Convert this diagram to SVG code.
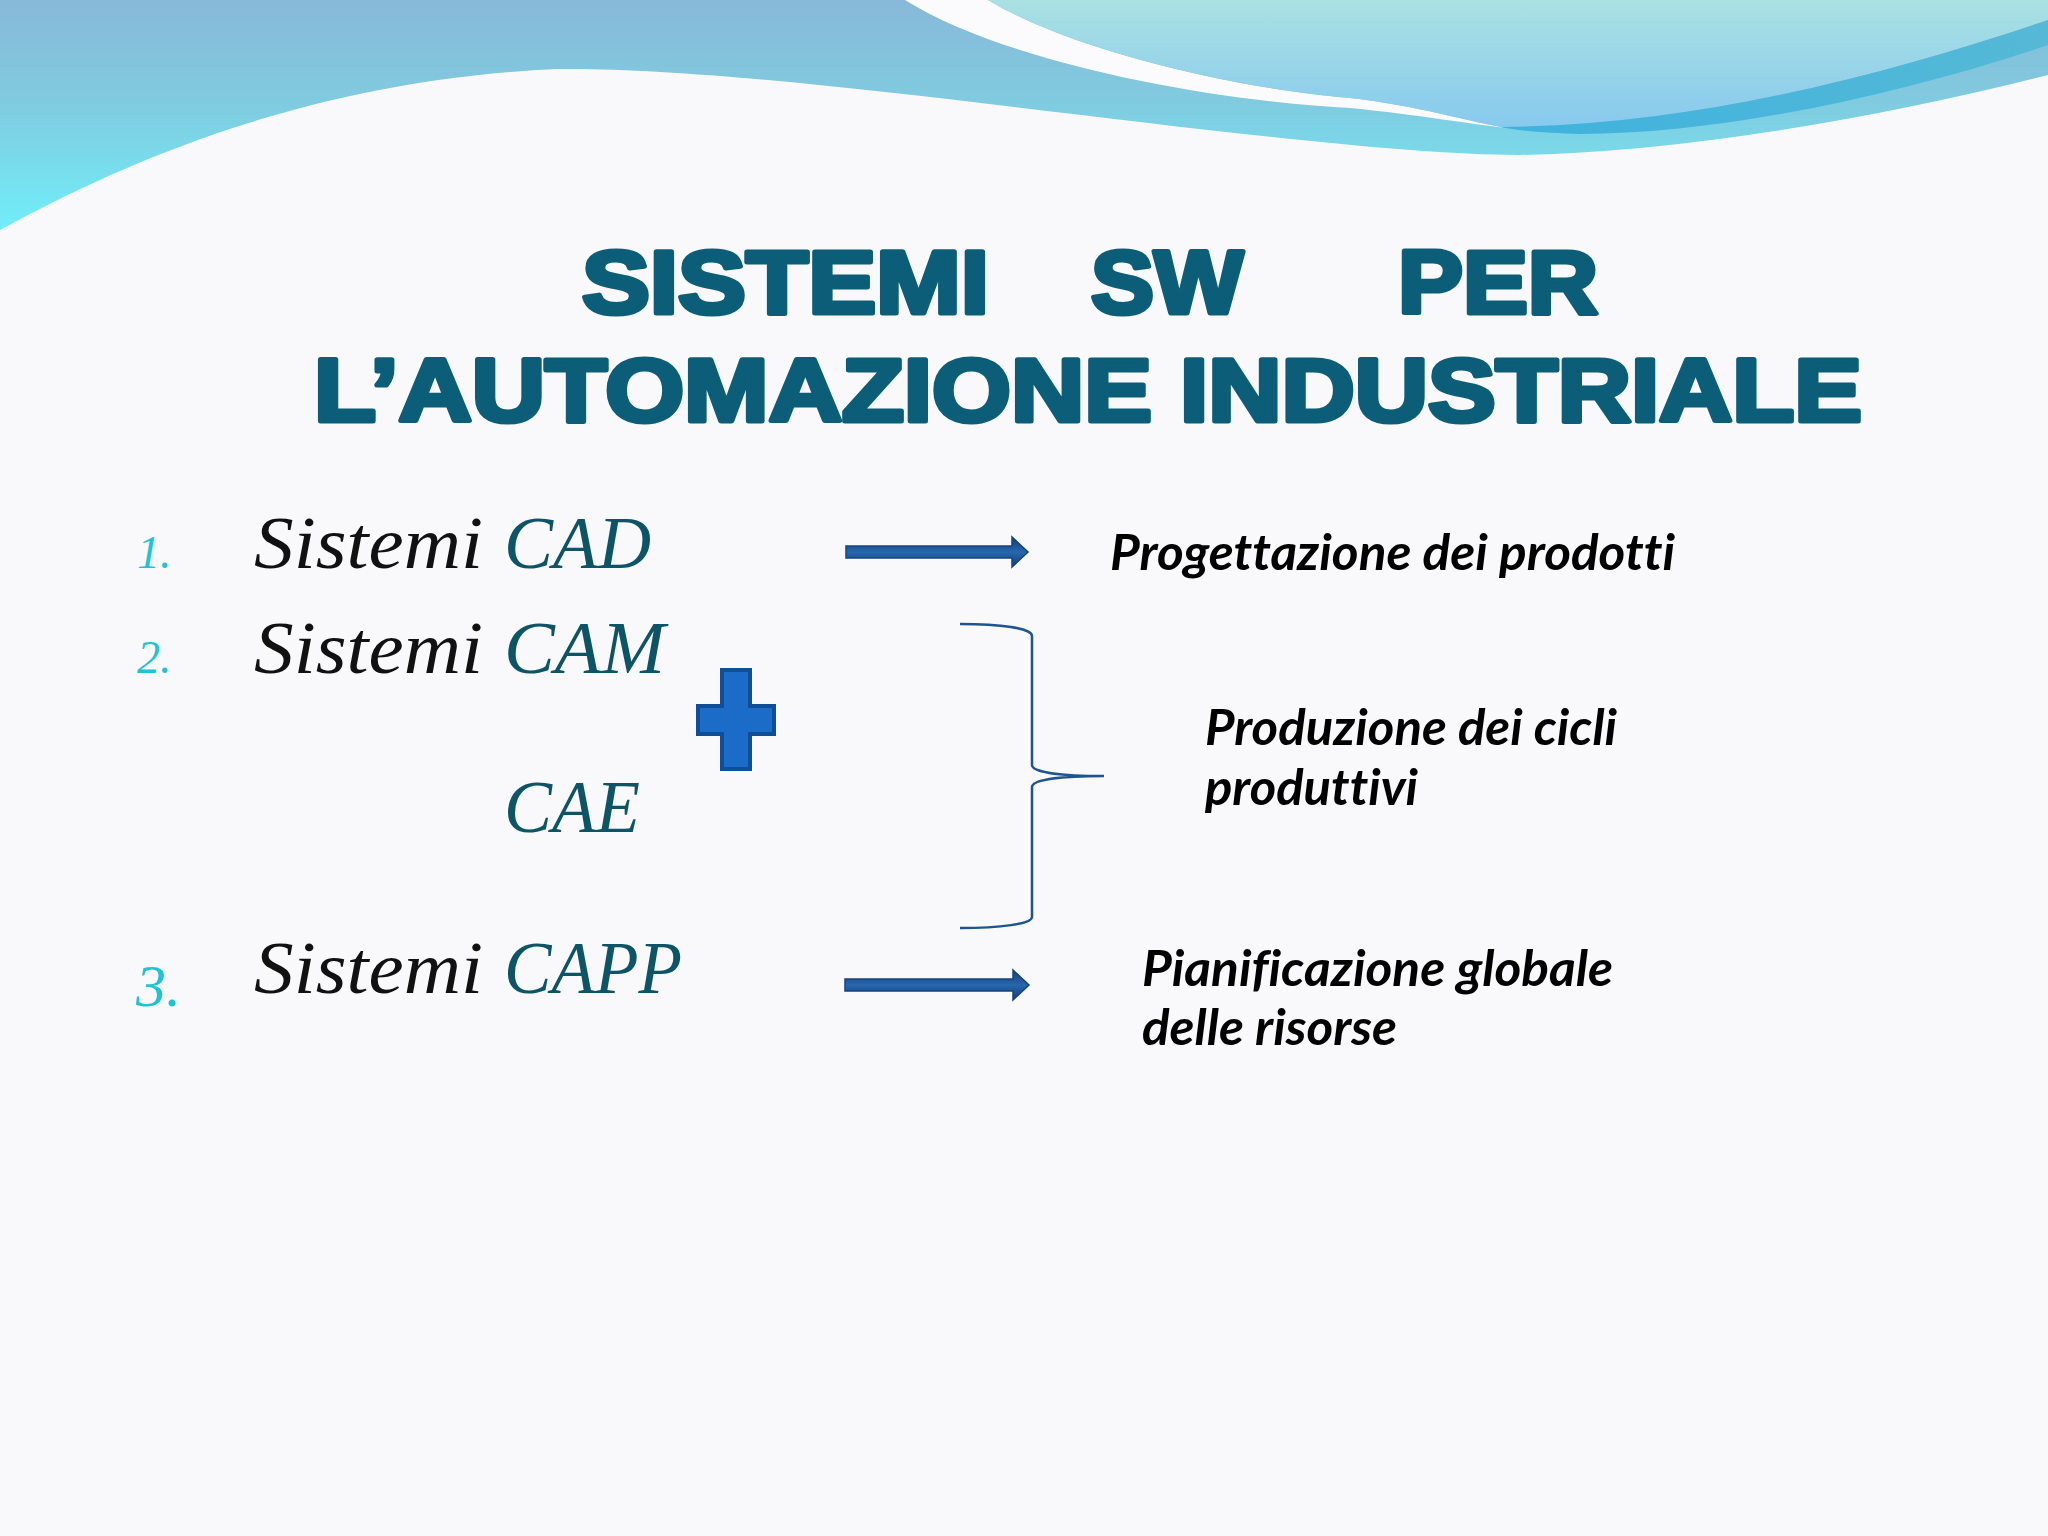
<svg xmlns="http://www.w3.org/2000/svg" width="2048" height="1536" viewBox="0 0 2048 1536">
  <defs>
    <linearGradient id="bandGrad" x1="0" y1="0" x2="0" y2="230" gradientUnits="userSpaceOnUse">
      <stop offset="0" stop-color="#87b9d8"/>
      <stop offset="0.45" stop-color="#80cbe0"/>
      <stop offset="1" stop-color="#70eef8"/>
    </linearGradient>
    <linearGradient id="lightGrad" x1="0" y1="0" x2="0" y2="130" gradientUnits="userSpaceOnUse">
      <stop offset="0" stop-color="#a9e1e3"/>
      <stop offset="1" stop-color="#87c9ee"/>
    </linearGradient>
    <linearGradient id="stripeGrad" x1="1500" y1="0" x2="2048" y2="0" gradientUnits="userSpaceOnUse">
      <stop offset="0" stop-color="#3fb2de"/>
      <stop offset="1" stop-color="#55b9d6"/>
    </linearGradient>
    <linearGradient id="arrowGrad" x1="0" y1="0" x2="0" y2="1">
      <stop offset="0" stop-color="#153f78"/>
      <stop offset="0.5" stop-color="#2766ad"/>
      <stop offset="1" stop-color="#153f78"/>
    </linearGradient>
    <style>
      .title { font-family: "Liberation Sans", Arial, sans-serif; font-weight: bold; font-size: 89px; fill: #0b5d78; stroke: #0b5d78; stroke-width: 5px; stroke-linejoin: round; }
      .item { font-family: "Liberation Serif", "Times New Roman", serif; font-style: italic; font-size: 75px; fill: #111111; }
      .num { font-family: "Liberation Serif", "Times New Roman", serif; font-style: italic; font-size: 46px; fill: #1fc4d4; }
      .acr { fill: #0d5466; }
      .desc { font-family: Lato, "Liberation Sans", sans-serif; font-style: italic; font-weight: bold; font-size: 50px; fill: #000000; font-variant-ligatures: none; }
      .arrow { fill: url(#arrowGrad); stroke: #15437e; stroke-width: 1.5; }
      .brace { fill: none; stroke: #1d5491; stroke-width: 2.5; }
    </style>
  </defs>

  <!-- background -->
  <rect x="0" y="0" width="2048" height="1536" fill="#f9f9fb"/>

  <!-- header waves -->
  <g id="header">
    <path d="M0,0 H2048 V75 C1880,118 1680,152 1520,155 C1300,155 800,66 558,69 C300,80 110,170 0,230 Z" fill="url(#bandGrad)"/>
    <path d="M905,0 L988,0 C1080,55 1250,90 1350,98 C1420,106 1470,122 1507,128 C1470,124 1420,115 1350,108 C1200,100 1000,60 905,0 Z" fill="#fbfbfd"/>
    <path d="M988,0 H2048 V20 C1900,70 1700,126 1507,128 C1470,122 1420,106 1350,98 C1250,90 1080,55 988,0 Z" fill="url(#lightGrad)"/>
    <path d="M1500,127 C1700,126 1900,70 2048,20 V45 C1900,95 1720,134 1580,134 C1550,133 1520,131 1500,127 Z" fill="url(#stripeGrad)"/>
  </g>

  <!-- title -->
  <g id="title">
    <text class="title" x="582" y="313" textLength="407" lengthAdjust="spacingAndGlyphs">SISTEMI</text>
    <text class="title" x="1091" y="313" textLength="152" lengthAdjust="spacingAndGlyphs">SW</text>
    <text class="title" x="1398" y="313" textLength="200" lengthAdjust="spacingAndGlyphs">PER</text>
    <text class="title" x="314" y="421" textLength="1548" lengthAdjust="spacingAndGlyphs">L’AUTOMAZIONE INDUSTRIALE</text>
  </g>

  <!-- list items -->
  <g id="item-cad">
    <text class="num" x="137" y="568">1.</text>
    <text class="item" x="254" y="568" textLength="229" lengthAdjust="spacingAndGlyphs">Sistemi</text>
    <text class="item acr" x="504" y="568" textLength="147" lengthAdjust="spacingAndGlyphs">CAD</text>
  </g>
  <g id="item-cam">
    <text class="num" x="137" y="673">2.</text>
    <text class="item" x="254" y="673" textLength="229" lengthAdjust="spacingAndGlyphs">Sistemi</text>
    <text class="item acr" x="504" y="673" textLength="161" lengthAdjust="spacingAndGlyphs">CAM</text>
  </g>
  <g id="item-cae">
    <text class="item acr" x="504" y="832" textLength="136" lengthAdjust="spacingAndGlyphs">CAE</text>
  </g>
  <g id="plus">
    <path d="M722,670 H750 V706 H774 V734 H750 V769 H722 V734 H698 V706 H722 Z" fill="#1a6cc8" stroke="#104e96" stroke-width="4"/>
  </g>
  <g id="item-capp">
    <text class="num" x="136" y="1006" style="font-size:60px">3.</text>
    <text class="item" x="254" y="993" textLength="229" lengthAdjust="spacingAndGlyphs">Sistemi</text>
    <text class="item acr" x="504" y="993" textLength="178" lengthAdjust="spacingAndGlyphs">CAPP</text>
  </g>

  <!-- descriptions -->
  <g id="desc-progettazione">
    <text class="desc" x="1110" y="570" textLength="565" lengthAdjust="spacingAndGlyphs">Progettazione dei prodotti</text>
  </g>
  <g id="desc-produzione">
    <text class="desc" x="1205" y="745" textLength="412" lengthAdjust="spacingAndGlyphs">Produzione dei cicli</text>
    <text class="desc" x="1205" y="805" textLength="213" lengthAdjust="spacingAndGlyphs">produttivi</text>
  </g>
  <g id="desc-pianificazione">
    <text class="desc" x="1142" y="986" textLength="471" lengthAdjust="spacingAndGlyphs">Pianificazione globale</text>
    <text class="desc" x="1142" y="1045" textLength="255" lengthAdjust="spacingAndGlyphs">delle risorse</text>
  </g>

  <!-- connectors -->
  <g id="connectors">
    <path class="arrow" d="M846,546 H1012 V537 L1028,552 L1012,567 V558 H846 Z"/>
    <path class="arrow" d="M845,979 H1013 V970 L1029,985 L1013,1000 V991 H845 Z"/>
    <path class="brace" d="M960,624 C1000,624 1032,628 1032,636 V765 C1032,772 1060,776 1104,776 C1060,776 1032,780 1032,787 V917 C1032,924 1000,928 960,928"/>
  </g>
</svg>
